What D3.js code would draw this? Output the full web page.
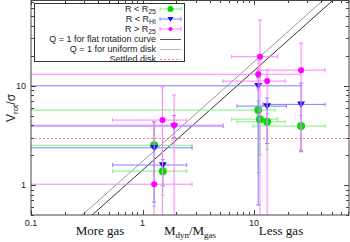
<!DOCTYPE html>
<html>
<head>
<meta charset="utf-8">
<script src="https://d3js.org/d3.v7.min.js"></script>
<style>
  body { margin: 0; background: #fff; }
  svg { display: block; font-family: "Liberation Sans", Arial, sans-serif; }
</style>
</head>
<body>
<svg id="chart" width="350" height="242"></svg>
<script>
// each row: x, y, xLow, xHigh, yLow, yHigh  (limits off the axes get clipped)
var inR25 = [
  [10.9, 5.67, 0.05, 15.4, 1.33, 7.0],
  [11.3, 4.6, 6.3, 16.2, 2.0, 5.5],
  [13.1, 4.33, 7.04, 19.0, 2.28, 5.2],
  [26.4, 3.92, 9.8, 43.3, 2.2, 5.0],
  [1.27, 2.51, 0.05, 2.78, 0.605, 4.33],
  [1.52, 1.38, 0.54, 2.49, 0.79, 1.6]
];
var inRHI = [
  [10.9, 9.95, 0.05, 26.4, 0.63, 12],
  [13.1, 6.22, 7.04, 19.5, 2.62, 7.5],
  [26.4, 6.47, 12, 43.3, 2.16, 10.6],
  [1.92, 3.92, 0.05, 5.27, 3.0, 5.0],
  [1.27, 2.37, 0.05, 2.78, 0.675, 4.33],
  [1.52, 1.59, 0.54, 2.49, 0.98, 1.8]
];
var outR25 = [
  [11.3, 19.5, 6.3, 16.2, 0.3, 45.5],
  [26.4, 14.3, 10.8, 43.3, 2.25, 26.7],
  [10.9, 13.0, 0.05, 26, 9, 18],
  [13.1, 11.1, 5.27, 19.0, 0.3, 14.3],
  [1.51, 4.5, 0.536, 2.49, 0.3, 9.7],
  [1.92, 4.0, 0.05, 5.27, 0.3, 8.03],
  [1.27, 1.02, 0.05, 2.78, 0.3, 4.33]
];
var xTickLabels = [0.1, 1, 10];
var yTickLabels = [1, 10];
var flatCurveQ = 1.414;   // V/sigma = sqrt(2) Mdyn/Mgas
var uniformDiskQ = 1.732; // V/sigma = sqrt(3) Mdyn/Mgas
var settledDisk = 3;

var svg = d3.select("#chart");
var pLeft = 31, pRight = 349, pTop = 0, pBottom = 215;

var x = d3.scaleLog().domain([0.1, 71]).range([pLeft, pRight]);
var y = d3.scaleLog().domain([0.5, 72.5]).range([pBottom, pTop]);

svg.append("defs").append("clipPath").attr("id", "plotclip")
  .append("rect").attr("x", pLeft).attr("y", pTop)
  .attr("width", pRight - pLeft).attr("height", pBottom - pTop);

var plot = svg.append("g").attr("clip-path", "url(#plotclip)");

// settled disk line
var sy = Math.round(y(settledDisk)) + 0.5;
plot.append("line")
  .attr("x1", pLeft).attr("x2", pRight)
  .attr("y1", sy).attr("y2", sy)
  .attr("stroke", "#ff8080").attr("stroke-width", 1)
  .attr("stroke-dasharray", "2,2");

// Q = 1 lines
var qLine = d3.line().x(function(d) { return x(d[0]); }).y(function(d) { return y(d[1]); });
[[uniformDiskQ, "#999"], [flatCurveQ, "#333"]].forEach(function(q) {
  plot.append("path")
    .attr("d", qLine([[0.1, 0.1 * q[0]], [71, 71 * q[0]]]))
    .attr("stroke", q[1]).attr("stroke-width", 1).attr("fill", "none");
});

var series = [
  { rows: inR25, bar: "#7fef7f", mark: "#00e000", shape: "circle", r: 4 },
  { rows: inRHI, bar: "#7f7fff", mark: "#1010f0", shape: "tri", r: 4 },
  { rows: outR25, bar: "#ff80ff", mark: "#ff00ff", shape: "circle", r: 3 }
];

function errorBars(g, rows, color) {
  var cap = 2;
  rows.forEach(function(d) {
    var cx = x(d[0]), cy = y(d[1]);
    var xl = Math.max(x(d[2]), pLeft - 5), xh = x(d[3]);
    var yl = Math.min(y(d[4]), pBottom + 5), yh = y(d[5]);
    var segs = [
      [xl, cy, xh, cy], [xl, cy - cap, xl, cy + cap], [xh, cy - cap, xh, cy + cap],
      [cx, yl, cx, yh], [cx - cap, yl, cx + cap, yl], [cx - cap, yh, cx + cap, yh]
    ];
    segs.forEach(function(s) {
      g.append("line").attr("x1", s[0]).attr("y1", s[1]).attr("x2", s[2]).attr("y2", s[3])
        .attr("stroke", color).attr("stroke-width", 1);
    });
  });
}

function marker(g, shape, cx, cy, r, color) {
  if (shape === "circle") {
    g.append("circle").attr("cx", cx).attr("cy", cy).attr("r", r).attr("fill", color);
  } else {
    g.append("path")
      .attr("d", "M" + (cx - r) + "," + (cy - r * 0.7) + "L" + (cx + r) + "," + (cy - r * 0.7) + "L" + cx + "," + (cy + r * 0.9) + "Z")
      .attr("fill", color);
  }
}

series.forEach(function(s) {
  errorBars(plot, s.rows, s.bar);
  s.rows.forEach(function(d) { marker(plot, s.shape, x(d[0]), y(d[1]), s.r, s.mark); });
});

// frame and ticks
var axisColor = "#444";
svg.append("rect").attr("x", pLeft).attr("y", pTop + 0.5)
  .attr("width", pRight - pLeft).attr("height", pBottom - pTop - 0.5)
  .attr("fill", "none").attr("stroke", axisColor).attr("stroke-width", 1);

function isMajor(v) { return Math.abs(Math.log10(v) - Math.round(Math.log10(v))) < 1e-6; }

x.ticks().forEach(function(v) {
  var px = Math.round(x(v)) + 0.5, len = isMajor(v) ? 5 : 3;
  svg.append("line").attr("x1", px).attr("x2", px).attr("y1", pBottom).attr("y2", pBottom - len).attr("stroke", axisColor);
  svg.append("line").attr("x1", px).attr("x2", px).attr("y1", pTop).attr("y2", pTop + len).attr("stroke", axisColor);
});
y.ticks().forEach(function(v) {
  var py = Math.round(y(v)) + 0.5, len = isMajor(v) ? 5 : 3;
  svg.append("line").attr("y1", py).attr("y2", py).attr("x1", pLeft).attr("x2", pLeft + len).attr("stroke", axisColor);
  svg.append("line").attr("y1", py).attr("y2", py).attr("x1", pRight).attr("x2", pRight - len).attr("stroke", axisColor);
});

svg.selectAll(".xlab").data(xTickLabels).enter().append("text")
  .attr("x", function(d) { return x(d); }).attr("y", 226)
  .attr("text-anchor", "middle").attr("font-size", 9).attr("fill", "#222")
  .text(function(d) { return d; });
svg.selectAll(".ylab").data(yTickLabels).enter().append("text")
  .attr("x", 26).attr("y", function(d) { return y(d) + 3; })
  .attr("text-anchor", "end").attr("font-size", 9).attr("fill", "#222")
  .text(function(d) { return d; });

// y axis title
var yt = svg.append("text").attr("transform", "translate(15,108) rotate(-90)")
  .attr("text-anchor", "middle").attr("font-size", 12).attr("fill", "#222");
yt.append("tspan").text("V");
yt.append("tspan").attr("font-size", 8).attr("dy", 3).text("rot");
yt.append("tspan").attr("dy", -3).text("/σ");

// x axis titles (serif)
var serif = "'Liberation Serif', 'Times New Roman', serif";
var xt = svg.append("text").attr("x", 190).attr("y", 235).attr("text-anchor", "middle")
  .attr("font-family", serif).attr("font-size", 13).attr("fill", "#111");
xt.append("tspan").text("M");
xt.append("tspan").attr("font-size", 9).attr("dy", 3).text("dyn");
xt.append("tspan").attr("dy", -3).text("/M");
xt.append("tspan").attr("font-size", 9).attr("dy", 3).text("gas");
svg.append("text").attr("x", 100).attr("y", 235).attr("text-anchor", "middle")
  .attr("font-family", serif).attr("font-size", 13).attr("fill", "#111").text("More gas");
svg.append("text").attr("x", 281).attr("y", 235).attr("text-anchor", "middle")
  .attr("font-family", serif).attr("font-size", 13).attr("fill", "#111").text("Less gas");

// legend
var lg = svg.append("g");
lg.append("rect").attr("x", 34.5).attr("y", 3.5).attr("width", 150).attr("height", 58)
  .attr("fill", "#fff").attr("stroke", "#333");
var legendItems = [
  { main: "R < R", sub: "25", s: series[0] },
  { main: "R < R", sub: "HI", s: series[1] },
  { main: "R > R", sub: "25", s: series[2] },
  { main: "Q = 1 for flat rotation curve", line: "#555" },
  { main: "Q = 1 for uniform disk", line: "#bbb" },
  { main: "Settled disk", line: "#ff8080", dash: "2,2" }
];
legendItems.forEach(function(it, i) {
  var ly = 9 + i * 10;
  var t = lg.append("text").attr("x", 156).attr("y", ly + 3).attr("text-anchor", "end")
    .attr("font-size", 9).attr("fill", "#222");
  t.append("tspan").text(it.main);
  if (it.sub) t.append("tspan").attr("font-size", 7).attr("dy", 2).text(it.sub);
  if (it.s) {
    [[160, ly, 181, ly], [160, ly - 2, 160, ly + 2], [181, ly - 2, 181, ly + 2]].forEach(function(s) {
      lg.append("line").attr("x1", s[0]).attr("y1", s[1]).attr("x2", s[2]).attr("y2", s[3])
        .attr("stroke", it.s.bar);
    });
    marker(lg, it.s.shape, 170.5, ly, it.s.r - 1, it.s.mark);
  } else {
    lg.append("line").attr("x1", 160).attr("x2", 181).attr("y1", ly + 0.5).attr("y2", ly + 0.5)
      .attr("stroke", it.line).attr("stroke-dasharray", it.dash || null);
  }
});
</script>
</body>
</html>
